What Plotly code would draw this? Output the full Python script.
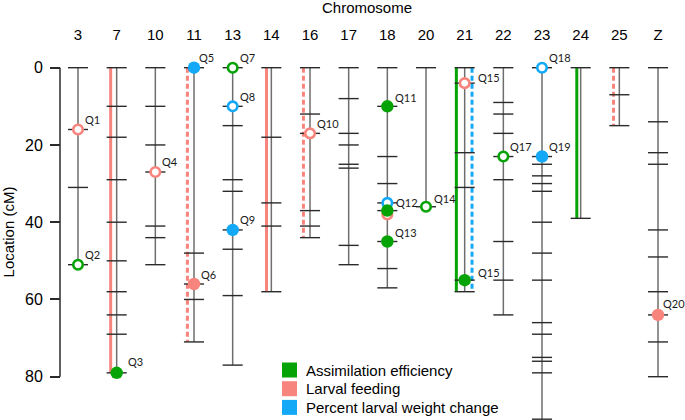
import plotly.graph_objects as go

# ---------------- data ----------------
chromosomes = ["3", "7", "10", "11", "13", "14", "16", "17", "18", "20",
               "21", "22", "23", "24", "25", "Z"]

markers_3 = [0, 16, 31, 51]
markers_7 = [0, 10, 18, 29, 40, 50, 58, 64, 69, 79]
markers_10 = [0, 10, 20, 27, 41, 44, 51]
markers_11 = [0, 48, 56, 60, 71]
markers_13 = [0, 10, 15, 29, 32, 42, 47, 59, 77]
markers_14 = [0, 18, 35, 41, 58]
markers_16 = [0, 12, 17, 37, 41, 44]
markers_17 = [0, 8, 17, 20, 25, 26, 46, 51]
markers_18 = [0, 10, 23, 30, 35, 37, 45, 52, 57]
markers_20 = [0, 36]
markers_21 = [0, 4, 22, 31, 55, 58]
markers_22 = [0, 9, 12, 17, 23, 29, 45, 55, 64]
markers_23 = [0, 23, 25, 28, 30, 32, 40, 48, 55, 66, 69, 75, 76, 79, 91]
markers_24 = [0, 39]
markers_25 = [0, 7, 15]
markers_Z = [0, 14, 22, 25, 42, 49, 58, 64, 71, 80]

marker_lists = [markers_3, markers_7, markers_10, markers_11, markers_13,
                markers_14, markers_16, markers_17, markers_18, markers_20,
                markers_21, markers_22, markers_23, markers_24, markers_25,
                markers_Z]

traits = ["Assimilation efficiency", "Larval feeding", "Percent larval weight change"]

# QTL peaks
qtl_label = ["Q1", "Q2", "Q3", "Q4", "Q5", "Q6", "Q7", "Q8", "Q9", "Q10", "Q11",
             "Q12", "Q12", "Q12", "Q13", "Q14", "Q15", "Q15", "Q17", "Q18", "Q19", "Q20"]
qtl_chrom = ["3", "3", "7", "10", "11", "11", "13", "13", "13", "16", "18",
             "18", "18", "18", "18", "20", "21", "21", "22", "23", "23", "Z"]
qtl_cm = [16, 51, 79, 27, 0, 56, 0, 10, 42, 17, 10,
          35, 38, 37, 45, 36, 4, 55, 23, 0, 23, 64]
qtl_trait = ["Larval feeding", "Assimilation efficiency", "Assimilation efficiency",
             "Larval feeding", "Percent larval weight change", "Larval feeding",
             "Assimilation efficiency", "Percent larval weight change",
             "Percent larval weight change", "Larval feeding", "Assimilation efficiency",
             "Percent larval weight change", "Larval feeding", "Assimilation efficiency",
             "Assimilation efficiency", "Assimilation efficiency", "Larval feeding",
             "Assimilation efficiency", "Assimilation efficiency",
             "Percent larval weight change", "Percent larval weight change",
             "Larval feeding"]
qtl_filled = [False, False, True, False, True, True, False, False, True, False, True,
              False, False, True, True, False, False, True, False, False, True, True]
qtl_show_label = [True] * 11 + [True, False, False] + [True] * 8

# QTL intervals
interval_chrom = ["7", "11", "14", "16", "21", "21", "24", "25"]
interval_start = [0, 0, 0, 0, 0, 0, 0, 0]
interval_end = [79, 71, 58, 44, 58, 58, 39, 15]
interval_trait = ["Larval feeding", "Larval feeding", "Larval feeding", "Larval feeding",
                  "Assimilation efficiency", "Percent larval weight change",
                  "Assimilation efficiency", "Larval feeding"]
interval_kind = ["solid", "dash", "solid", "dash", "solid", "dash", "solid", "dash"]

# ---------------- styling ----------------
trait_color = {"Assimilation efficiency": "#06A306",
               "Larval feeding": "#F8857D",
               "Percent larval weight change": "#14A9F6"}
interval_offset = [-0.155, -0.17, -0.125, -0.17, -0.215, 0.19, -0.1, -0.15]
label_shift = {("Q3", 79): (9, 11), ("Q5", 0): (3, 10), ("Q12", 35): (7, 0),
               ("Q15", 4): (11, 6), ("Q15", 55): (11, 8), ("Q14", 36): (6, 8),
               ("Q13", 45): (6, 9), ("Q11", 10): (6, 9), ("Q20", 64): (3, 11)}
TICK_HALF = 0.26
LABEL_FONT = "Liberation Sans, Arial, sans-serif"

cidx = {c: i for i, c in enumerate(chromosomes)}

fig = go.Figure()

# intervals
for ch, s, e, tr, kind, off in zip(interval_chrom, interval_start, interval_end,
                                   interval_trait, interval_kind, interval_offset):
    x = cidx[ch] + off
    fig.add_trace(go.Scatter(
        x=[x, x], y=[s, e], mode="lines", showlegend=False, hoverinfo="skip",
        line=dict(color=trait_color[tr], width=3,
                  dash="solid" if kind == "solid" else "5px,3px")))

# chromosome backbones
bx, by = [], []
tx, ty = [], []
for i, ml in enumerate(marker_lists):
    bx += [i, i, None]
    by += [min(ml), max(ml), None]
    for m in ml:
        tx += [i - TICK_HALF, i + TICK_HALF, None]
        ty += [m, m, None]
fig.add_trace(go.Scatter(x=bx, y=by, mode="lines", showlegend=False, hoverinfo="skip",
                         line=dict(color="#6e6e6e", width=1.5)))
fig.add_trace(go.Scatter(x=tx, y=ty, mode="lines", showlegend=False, hoverinfo="skip",
                         line=dict(color="#2b2b2b", width=1.4)))

# QTL points: draw open first, then filled (blue, pink, green order)
order = [("Percent larval weight change", False), ("Larval feeding", False),
         ("Assimilation efficiency", False), ("Percent larval weight change", True),
         ("Larval feeding", True), ("Assimilation efficiency", True)]
for tr, filled in order:
    xs = [cidx[c] for c, t, f in zip(qtl_chrom, qtl_trait, qtl_filled) if t == tr and f == filled]
    ys = [v for v, t, f in zip(qtl_cm, qtl_trait, qtl_filled) if t == tr and f == filled]
    if not xs:
        continue
    col = trait_color[tr]
    if filled:
        mk = dict(symbol="circle", size=12.5, color=col, line=dict(width=0))
    else:
        mk = dict(symbol="circle", size=9.5, color="white", line=dict(color=col, width=2.6))
    fig.add_trace(go.Scatter(x=xs, y=ys, mode="markers", marker=mk,
                             showlegend=False, name=tr))

# QTL labels
for lab, ch, cm, show in zip(qtl_label, qtl_chrom, qtl_cm, qtl_show_label):
    if not show:
        continue
    dx, dy = label_shift.get((lab, cm), (5, 10))
    fig.add_annotation(x=cidx[ch], y=cm, text=lab, showarrow=False,
                       xanchor="left", yanchor="middle", xshift=dx, yshift=dy,
                       font=dict(family="Lato, sans-serif", size=11, color="#1a1a1a"))

# ---------------- layout ----------------
W, H = 685, 420
ML, MR, MT, MB = 45, 5, 44, 0
PW, PH = W - ML - MR, H - MT - MB


def paper_x(px):
    return (px - ML) / PW


def paper_y(py):
    return (H - MB - py) / PH


axis_pos = paper_x(60)

# y axis line from 0 to 80
fig.add_shape(type="line", xref="paper", yref="y", x0=axis_pos, x1=axis_pos,
              y0=0, y1=80, line=dict(color="#2b2b2b", width=1.5))

# manual legend
for k, tr in enumerate(traits):
    cy = 370 + k * 18.7
    fig.add_shape(type="rect", xref="paper", yref="paper",
                  x0=paper_x(282), x1=paper_x(297),
                  y0=paper_y(cy + 7.5), y1=paper_y(cy - 7.5),
                  line=dict(width=0), fillcolor=trait_color[tr])
    fig.add_annotation(xref="paper", yref="paper", x=paper_x(304), y=paper_y(cy),
                       text=tr, showarrow=False, xanchor="left", yanchor="middle",
                       font=dict(family=LABEL_FONT, size=15, color="black"))

fig.update_layout(
    width=W, height=H,
    margin=dict(l=ML, r=MR, t=MT, b=MB, pad=0),
    paper_bgcolor="white", plot_bgcolor="white",
    showlegend=False,
    title=dict(text="Chromosome", x=367 / W, xanchor="center", xref="container",
               y=1 - 2 / H, yanchor="top", yref="container",
               font=dict(family=LABEL_FONT, size=15, color="black")),
    xaxis=dict(range=[(ML - 78) / 38.667, (W - MR - 78) / 38.667],
               side="top", tickmode="array", tickvals=list(range(len(chromosomes))),
               ticktext=chromosomes, ticks="", showgrid=False, zeroline=False,
               showline=False, tickfont=dict(family=LABEL_FONT, size=15, color="black"),
               fixedrange=True),
    yaxis=dict(range=[(H - MB - 67.7) / 3.8625, -(67.7 - MT) / 3.8625],
               autorange=False, anchor="free", position=axis_pos,
               tickmode="array", tickvals=[0, 20, 40, 60, 80],
               ticks="outside", ticklen=10, tickwidth=1.5, tickcolor="#2b2b2b",
               showgrid=False, zeroline=False, showline=False,
               tickfont=dict(family=LABEL_FONT, size=16, color="black"),
               ticklabelstandoff=4,
               title=dict(text="Location (cM)", standoff=8,
                          font=dict(family=LABEL_FONT, size=15, color="black")),
               automargin=False, fixedrange=True),
)

fig.write_html("out.html", config={"displayModeBar": False},
               post_script="document.body.style.margin='0';document.body.style.overflow='hidden';")
